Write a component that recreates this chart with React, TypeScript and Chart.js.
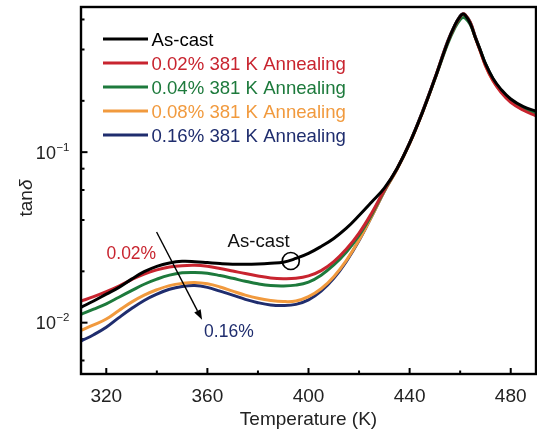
import React, { useEffect, useRef } from "react";
import { Chart, registerables } from "chart.js";

Chart.register(...registerables);

// Temperature sweep (K)
const temperatures = [
  310, 315, 320, 325, 330, 335, 340, 345, 350, 355, 360, 365, 370, 375, 380, 385, 390, 395, 400, 405,
  410, 415, 420, 425, 430, 435, 440, 445, 450, 455, 458, 460, 461, 462, 464, 466, 468, 470, 473, 476,
  480, 485, 490,
];

// tan(delta) for each sample state
const asCast = [
  0.0123, 0.0134, 0.0147, 0.0161, 0.018, 0.0199, 0.0214, 0.0224, 0.0229, 0.0228, 0.0225, 0.0222, 0.022, 0.022, 0.0221, 0.0223, 0.0226, 0.0238, 0.0255, 0.028,
  0.0312, 0.0358, 0.0425, 0.051, 0.0615, 0.08, 0.113, 0.17, 0.27, 0.44, 0.56, 0.625, 0.645, 0.635, 0.57, 0.47, 0.395, 0.33, 0.27, 0.235,
  0.205, 0.185, 0.174,
];
const anneal002 = [
  0.0134, 0.0142, 0.0152, 0.0164, 0.0179, 0.0193, 0.0204, 0.0212, 0.0216, 0.0217, 0.0214, 0.0208, 0.0201, 0.0194, 0.0188, 0.0183, 0.0181, 0.0182, 0.0188, 0.0202,
  0.0228, 0.027, 0.0335, 0.044, 0.06, 0.08, 0.113, 0.17, 0.27, 0.44, 0.555, 0.622, 0.645, 0.638, 0.575, 0.47, 0.39, 0.322, 0.262, 0.226,
  0.196, 0.176, 0.163,
];
const anneal004 = [
  0.0112, 0.012, 0.0129, 0.0141, 0.0154, 0.0168, 0.018, 0.019, 0.0196, 0.0197, 0.0195, 0.0189, 0.0182, 0.0175, 0.0169, 0.0165, 0.0164, 0.0166, 0.0173, 0.019,
  0.0218, 0.026, 0.0325, 0.043, 0.0595, 0.08, 0.113, 0.17, 0.268, 0.43, 0.54, 0.6, 0.615, 0.61, 0.56, 0.47, 0.395, 0.33, 0.268, 0.232,
  0.2, 0.18, 0.168,
];
const anneal008 = [
  0.009, 0.0097, 0.0105, 0.0118, 0.0132, 0.0145, 0.0156, 0.0165, 0.017, 0.0172, 0.0169, 0.0162, 0.0153, 0.0145, 0.0139, 0.0135, 0.0133, 0.0134, 0.0142, 0.0158,
  0.0186, 0.0232, 0.0305, 0.042, 0.059, 0.079, 0.112, 0.17, 0.27, 0.44, 0.555, 0.625, 0.645, 0.638, 0.575, 0.47, 0.39, 0.322, 0.262, 0.228,
  0.198, 0.178, 0.166,
];
const anneal016 = [
  0.0078, 0.0085, 0.0094, 0.0107, 0.0121, 0.0135, 0.0147, 0.0157, 0.0163, 0.0165, 0.0161, 0.0153, 0.0145, 0.0137, 0.0131, 0.0127, 0.0126, 0.0128, 0.0136, 0.0153,
  0.0182, 0.0229, 0.0303, 0.042, 0.059, 0.0795, 0.113, 0.172, 0.272, 0.445, 0.56, 0.63, 0.648, 0.64, 0.578, 0.475, 0.395, 0.328, 0.268, 0.232,
  0.202, 0.182, 0.17,
];

const seriesLabels = [
  "As-cast",
  "0.02% 381 K Annealing",
  "0.04% 381 K Annealing",
  "0.08% 381 K Annealing",
  "0.16% 381 K Annealing",
];
const seriesValues = [asCast, anneal002, anneal004, anneal008, anneal016];
const seriesColors = ["#000000", "#c8242f", "#1d7a3c", "#f19a3e", "#1f2d6e"];

const xTickValues = [320, 360, 400, 440, 480];
const xMinorTickValues = [340, 380, 420, 460];
const yTickValues = [0.01, 0.1];
const yTickExponents = ["\u22122", "\u22121"];
const yMinorTickValues = [0.006, 0.008, 0.02, 0.04, 0.06, 0.08, 0.2, 0.4, 0.6];

// Call-outs placed in data coordinates (baseline-left of text)
const noteTexts = [
  { text: "0.02%", x: 320.1, y: 0.0237, color: "#c8242f" },
  { text: "0.16%", x: 358.7, y: 0.00828, color: "#1f2d6e" },
  { text: "As-cast", x: 368, y: 0.0279, color: "#111111" },
];
const ringAt = { x: 393, y: 0.023 };
const arrowFrom = { x: 339.9, y: 0.034 };
const arrowTo = { x: 357.9, y: 0.0104 };

const FONT = "'Liberation Sans', Arial, Helvetica, sans-serif";

const decorations = {
  id: "decorations",
  beforeDatasetsDraw(chart: any) {
    const { ctx, chartArea: a, scales } = chart;
    const xs = scales.x;
    const ys = scales.y;
    ctx.save();
    ctx.strokeStyle = "#000";
    ctx.lineWidth = 2;
    const tick = (x1: number, y1: number, x2: number, y2: number) => {
      ctx.beginPath();
      ctx.moveTo(x1, y1);
      ctx.lineTo(x2, y2);
      ctx.stroke();
    };
    xTickValues.forEach((v) => {
      const px = xs.getPixelForValue(v);
      tick(px, a.bottom, px, a.bottom - 6);
    });
    xMinorTickValues.forEach((v) => {
      const px = xs.getPixelForValue(v);
      tick(px, a.bottom, px, a.bottom - 3.5);
    });
    yTickValues.forEach((v) => {
      const py = ys.getPixelForValue(v);
      tick(a.left, py, a.left + 6.5, py);
    });
    yMinorTickValues.forEach((v) => {
      const py = ys.getPixelForValue(v);
      tick(a.left, py, a.left + 3.5, py);
    });
    ctx.restore();
  },
  afterDatasetsDraw(chart: any) {
    const { ctx, chartArea: a, scales } = chart;
    const xs = scales.x;
    const ys = scales.y;
    ctx.save();

    // frame
    ctx.strokeStyle = "#000";
    ctx.lineWidth = 2.4;
    ctx.strokeRect(a.left, a.top, a.right - a.left, a.bottom - a.top);

    // y tick labels with superscript exponents
    ctx.fillStyle = "#222";
    ctx.textBaseline = "alphabetic";
    yTickValues.forEach((v, i) => {
      const py = ys.getPixelForValue(v);
      ctx.font = `11.5px ${FONT}`;
      ctx.textAlign = "right";
      const right = a.left - 11.5;
      ctx.fillText(yTickExponents[i], right, py - 1.5);
      const expW = ctx.measureText(yTickExponents[i]).width;
      ctx.font = `18px ${FONT}`;
      ctx.fillText("10", right - expW - 0.5, py + 6.8);
    });

    // y axis title: tan + italic delta, rotated
    ctx.save();
    ctx.translate(32, 198);
    ctx.rotate(-Math.PI / 2);
    ctx.fillStyle = "#222";
    ctx.textAlign = "left";
    ctx.font = `19px ${FONT}`;
    const wTan = ctx.measureText("tan").width;
    ctx.font = `italic 19px ${FONT}`;
    const wDelta = ctx.measureText("\u03b4").width;
    const start = -(wTan + wDelta) / 2;
    ctx.font = `19px ${FONT}`;
    ctx.fillText("tan", start, 0);
    ctx.font = `italic 19px ${FONT}`;
    ctx.fillText("\u03b4", start + wTan, 0);
    ctx.restore();

    // legend
    const legendX = 103;
    const legendY = 39;
    const rowGap = 24;
    seriesLabels.forEach((label, i) => {
      const y = legendY + i * rowGap;
      ctx.strokeStyle = seriesColors[i];
      ctx.lineWidth = 3.2;
      ctx.beginPath();
      ctx.moveTo(legendX, y);
      ctx.lineTo(legendX + 45, y);
      ctx.stroke();
      ctx.fillStyle = seriesColors[i];
      ctx.font = `18.6px ${FONT}`;
      ctx.textAlign = "left";
      ctx.textBaseline = "alphabetic";
      ctx.fillText(label, legendX + 48.5, y + 7);
    });

    // call-out texts
    noteTexts.forEach((n) => {
      ctx.fillStyle = n.color;
      ctx.font = `${n.text === "As-cast" ? 18.6 : 17.5}px ${FONT}`;
      ctx.textAlign = "left";
      ctx.textBaseline = "alphabetic";
      ctx.fillText(n.text, xs.getPixelForValue(n.x), ys.getPixelForValue(n.y));
    });

    // ring on the as-cast curve
    ctx.strokeStyle = "#000";
    ctx.lineWidth = 1.7;
    ctx.beginPath();
    ctx.arc(xs.getPixelForValue(ringAt.x), ys.getPixelForValue(ringAt.y), 8.5, 0, Math.PI * 2);
    ctx.stroke();

    // trend arrow
    const x1 = xs.getPixelForValue(arrowFrom.x);
    const y1 = ys.getPixelForValue(arrowFrom.y);
    const x2 = xs.getPixelForValue(arrowTo.x);
    const y2 = ys.getPixelForValue(arrowTo.y);
    const ang = Math.atan2(y2 - y1, x2 - x1);
    const headLen = 10;
    const headHalf = 3.6;
    const bx = x2 - headLen * Math.cos(ang);
    const by = y2 - headLen * Math.sin(ang);
    ctx.lineWidth = 1.4;
    ctx.beginPath();
    ctx.moveTo(x1, y1);
    ctx.lineTo(bx, by);
    ctx.stroke();
    ctx.fillStyle = "#000";
    ctx.beginPath();
    ctx.moveTo(x2, y2);
    ctx.lineTo(bx + headHalf * Math.sin(ang), by - headHalf * Math.cos(ang));
    ctx.lineTo(bx - headHalf * Math.sin(ang), by + headHalf * Math.cos(ang));
    ctx.closePath();
    ctx.fill();

    ctx.restore();
  },
};

export default function App() {
  const canvasRef = useRef<HTMLCanvasElement | null>(null);

  useEffect(() => {
    if (!canvasRef.current) return;
    const chart = new Chart(canvasRef.current, {
      type: "line",
      data: {
        datasets: seriesLabels.map((label, i) => ({
          label,
          data: temperatures.map((t, j) => ({ x: t, y: seriesValues[i][j] })),
          borderColor: seriesColors[i],
          backgroundColor: seriesColors[i],
          borderWidth: 3,
          pointRadius: 0,
          tension: 0.4,
          fill: false,
        })),
      },
      options: {
        responsive: false,
        animation: false,
        devicePixelRatio: 1,
        layout: { padding: { left: 0, right: 1, top: 7, bottom: 0 } },
        plugins: {
          legend: { display: false },
          tooltip: { enabled: false },
        },
        scales: {
          x: {
            type: "linear",
            min: 310,
            max: 490,
            grid: { display: false },
            border: { display: false },
            afterBuildTicks: (s: any) => {
              s.ticks = xTickValues.map((v) => ({ value: v }));
            },
            afterFit: (s: any) => {
              s.height = 57;
            },
            ticks: {
              autoSkip: false,
              maxRotation: 0,
              padding: 3,
              color: "#222",
              font: { family: FONT, size: 19 },
            },
            title: {
              display: true,
              text: "Temperature (K)",
              color: "#222",
              font: { family: FONT, size: 19 },
              padding: { top: 2, bottom: 0 },
            },
          },
          y: {
            type: "logarithmic",
            min: 0.005,
            max: 0.71,
            grid: { display: false },
            border: { display: false },
            afterBuildTicks: (s: any) => {
              s.ticks = yTickValues.map((v) => ({ value: v }));
            },
            afterFit: (s: any) => {
              s.width = 81;
            },
            ticks: { display: false },
          },
        },
      },
      plugins: [decorations],
    });
    return () => chart.destroy();
  }, []);

  return (
    <div style={{ position: "absolute", left: 0, top: 0, width: 537, height: 431, background: "#fff" }}>
      <canvas ref={canvasRef} width={537} height={431} style={{ display: "block" }} />
    </div>
  );
}
